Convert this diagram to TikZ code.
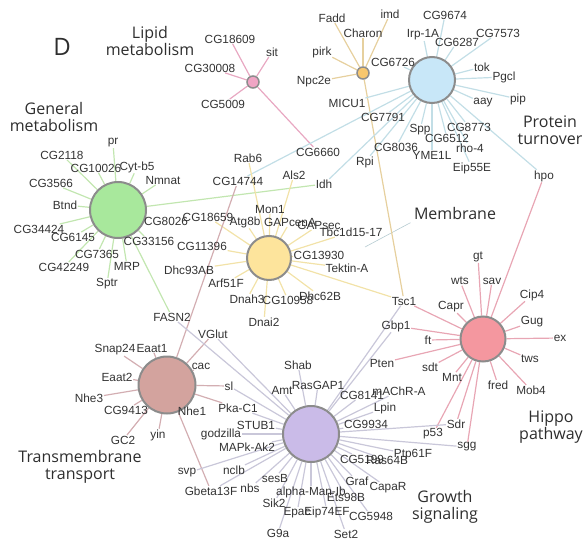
\documentclass[tikz,border=0pt]{standalone}
\usepackage{fontspec}
\setmainfont{Liberation Sans}
\newfontfamily\catfont{Open Sans}
\usetikzlibrary{backgrounds}

\definecolor{genetext}{HTML}{333333}
\definecolor{cattext}{HTML}{2E2E2E}
\definecolor{hubrim}{HTML}{8C8C8C}
% hub fills
\definecolor{greenfill}{HTML}{A8E89C}
\definecolor{bluefill}{HTML}{C8E7F8}
\definecolor{yellowfill}{HTML}{FDE49C}
\definecolor{pinkfill}{HTML}{F4979F}
\definecolor{brownfill}{HTML}{D3A39E}
\definecolor{purplefill}{HTML}{CABBE8}
\definecolor{lipidfill}{HTML}{F0A4C4}
\definecolor{orangefill}{HTML}{F8C76E}
% spoke colours
\definecolor{greenedge}{HTML}{C2E6B0}
\definecolor{blueedge}{HTML}{C2DEE6}
\definecolor{yellowedge}{HTML}{F2E2A8}
\definecolor{pinkedge}{HTML}{E8A6B4}
\definecolor{brownedge}{HTML}{D3AEB2}
\definecolor{purpleedge}{HTML}{C9C7D9}
\definecolor{lipidedge}{HTML}{E8A8C2}
\definecolor{orangeedge}{HTML}{E6D09E}

\tikzset{
  gene/.style={inner sep=0.6pt, text=genetext, font=\fontsize{11.8}{11.8}\selectfont},
  hub/.style={circle, draw=hubrim, line width=2pt, inner sep=0pt},
  minihub/.style={circle, draw=hubrim, line width=1.5pt, inner sep=0pt, minimum size=12pt},
  cat/.style={align=center, text=cattext, font=\catfont\fontsize{16}{17}\selectfont},
  spoke/.style={line width=1.2pt},
  greenln/.style={spoke, draw=greenedge},
  blueln/.style={spoke, draw=blueedge},
  yellowln/.style={spoke, draw=yellowedge},
  pinkln/.style={spoke, draw=pinkedge},
  brownln/.style={spoke, draw=brownedge},
  purpleln/.style={spoke, draw=purpleedge},
  lipidln/.style={spoke, draw=lipidedge},
  orangeln/.style={spoke, draw=orangeedge},
  lead/.style={line width=0.6pt, draw=blueedge!80!gray}
}

\begin{document}
\begin{tikzpicture}[x=1pt,y=-1pt]
  \useasboundingbox (0,0) rectangle (585,540);

  % panel letter and group titles
  \node[cat, font=\catfont\fontsize{24}{24}\selectfont] (panel) at (62,47) {D};
  \node[cat] (catlipid) at (150,41) {Lipid\\metabolism};
  \node[cat] (catgen) at (54,117) {General\\metabolism};
  \node[cat] (catprot) at (550,130) {Protein\\turnover};
  \node[cat] (memb) at (455,213) {Membrane};
  \node[cat] (cathippo) at (551,427) {Hippo\\pathway};
  \node[cat] (cattrans) at (80,467) {Transmembrane\\transport};
  \node[cat] (catgrowth) at (445,507) {Growth\\signaling};
  \coordinate (mtip) at (365,247);

  % hubs
  \node[minihub, fill=lipidfill] (L) at (253,82) {};
  \node[minihub, fill=orangefill] (O) at (363,73) {};
  \node[hub, fill=bluefill, minimum size=46pt] (B) at (432,80) {};
  \node[hub, fill=greenfill, minimum size=56pt] (G) at (118,210) {};
  \node[hub, fill=yellowfill, minimum size=44pt] (Y) at (269,258) {};
  \node[hub, fill=pinkfill, minimum size=45pt] (P) at (483,339) {};
  \node[hub, fill=brownfill, minimum size=57pt] (T) at (167,385) {};
  \node[hub, fill=purplefill, minimum size=56pt] (R) at (311,434) {};

  % lipid metabolism
  \node[gene] (cgA) at (230,39) {CG18609};
  \node[gene] (sit) at (272,52) {sit};
  \node[gene] (cgB) at (210,68) {CG30008};
  \node[gene] (cgC) at (223,104) {CG5009};
  \node[gene] (cg6660) at (318,152) {CG6660};

  % small orange hub
  \node[gene] (fadd) at (332,18) {Fadd};
  \node[gene] (imd) at (390,14) {imd};
  \node[gene] (charon) at (363,33) {Charon};
  \node[gene] (pirk) at (322,52) {pirk};
  \node[gene] (npc) at (314,82) {Npc2e};
  \node[gene] (tsc) at (404,301) {Tsc1};

  % protein turnover
  \node[gene] (cg9674) at (445,15) {CG9674};
  \node[gene] (irp) at (423,35) {Irp-1A};
  \node[gene] (cg6287) at (457,42) {CG6287};
  \node[gene] (cg7573) at (498,33) {CG7573};
  \node[gene] (cg6726) at (393,62) {CG6726};
  \node[gene] (tok) at (482,67) {tok};
  \node[gene] (pgcl) at (504,77) {Pgcl};
  \node[gene] (pip) at (518,99) {pip};
  \node[gene] (aay) at (483,103) {aay};
  \node[gene] (micu) at (347,103) {MICU1};
  \node[gene] (cg7791) at (383,117) {CG7791};
  \node[gene] (spp) at (420,130) {Spp};
  \node[gene] (cg8773) at (469,127) {CG8773};
  \node[gene] (cg6512) at (447,138) {CG6512};
  \node[gene] (rho) at (470,148) {rho-4};
  \node[gene] (cg8036) at (396,147) {CG8036};
  \node[gene] (yme) at (432,155) {YME1L};
  \node[gene] (eip55) at (472,168) {Eip55E};
  \node[gene] (hpo) at (544,176) {hpo};
  \node[gene] (rpi) at (365,162) {Rpi};
  \node[gene] (idh) at (324,184) {Idh};
  \node[gene] (cg14744) at (238,181) {CG14744};

  % general metabolism
  \node[gene] (pr) at (113,143) {pr};
  \node[gene] (cg2118) at (62,155) {CG2118};
  \node[gene] (cg10026) at (96,168) {CG10026};
  \node[gene] (cytb5) at (137,167) {Cyt-b5};
  \node[gene] (cg3566) at (51,183) {CG3566};
  \node[gene] (nmnat) at (163,180) {Nmnat};
  \node[gene] (btnd) at (65,205) {Btnd};
  \node[gene] (cg34424) at (39,229) {CG34424};
  \node[gene] (cg6145) at (73,237) {CG6145};
  \node[gene] (cg8026) at (166,221) {CG8026};
  \node[gene] (cg33156) at (149,241) {CG33156};
  \node[gene] (cg7365) at (97,254) {CG7365};
  \node[gene] (cg42249) at (64,267) {CG42249};
  \node[gene] (mrp) at (127,266) {MRP};
  \node[gene] (sptr) at (107,284) {Sptr};
  \node[gene] (fasn) at (172,317) {FASN2};

  % membrane
  \node[gene] (rab6) at (248,158) {Rab6};
  \node[gene] (als2) at (294,175) {Als2};
  \node[gene] (mon1) at (270,209) {Mon1};
  \node[gene] (atg8b) at (245,222) {Atg8b};
  \node[gene] (gapcena) at (290,222) {GAPcenA};
  \node[gene] (gapsec) at (319,225) {GAPsec};
  \node[gene] (tbc) at (351,232) {Tbc1d15-17};
  \node[gene] (cg13930) at (319,255) {CG13930};
  \node[gene] (tektin) at (347,268) {Tektin-A};
  \node[gene] (dhc62b) at (320,296) {Dhc62B};
  \node[gene] (cg10958) at (288,300) {CG10958};
  \node[gene] (dnah3) at (247,299) {Dnah3};
  \node[gene] (dnai2) at (264,322) {Dnai2};
  \node[gene] (arf51f) at (226,283) {Arf51F};
  \node[gene] (dhc93ab) at (189,270) {Dhc93AB};
  \node[gene] (cg11396) at (202,246) {CG11396};
  \node[gene] (cg18659) at (208,217) {CG18659};

  % hippo pathway
  \node[gene] (gt) at (478,257) {gt};
  \node[gene] (wts) at (460,281) {wts};
  \node[gene] (sav) at (492,281) {sav};
  \node[gene] (cip4) at (532,295) {Cip4};
  \node[gene] (capr) at (451,307) {Capr};
  \node[gene] (gug) at (532,322) {Gug};
  \node[gene] (ex) at (560,338) {ex};
  \node[gene] (ft) at (428,340) {ft};
  \node[gene] (tws) at (530,359) {tws};
  \node[gene] (pten) at (382,363) {Pten};
  \node[gene] (sdt) at (430,367) {sdt};
  \node[gene] (mnt) at (452,377) {Mnt};
  \node[gene] (fred) at (498,385) {fred};
  \node[gene] (mob4) at (531,390) {Mob4};
  \node[gene] (sdr) at (456,424) {Sdr};
  \node[gene] (p53) at (433,434) {p53};
  \node[gene] (sgg) at (467,447) {sgg};
  \node[gene] (gbp1) at (396,326) {Gbp1};

  % transmembrane transport
  \node[gene] (snap24) at (115,350) {Snap24};
  \node[gene] (eaat1) at (152,348) {Eaat1};
  \node[gene] (eaat2) at (117,377) {Eaat2};
  \node[gene] (nhe3) at (89,398) {Nhe3};
  \node[gene] (cg9413) at (126,410) {CG9413};
  \node[gene] (gc2) at (123,440) {GC2};
  \node[gene] (yin) at (158,435) {yin};
  \node[gene] (nhe1) at (192,411) {Nhe1};
  \node[gene] (cac) at (201,366) {cac};
  \node[gene] (sl) at (229,386) {sl};
  \node[gene] (pkac1) at (238,408) {Pka-C1};
  \node[gene] (vglut) at (213,334) {VGlut};
  \node[gene] (gbeta) at (211,491) {Gbeta13F};

  % growth signaling
  \node[gene] (shab) at (298,365) {Shab};
  \node[gene] (amt) at (282,390) {Amt};
  \node[gene] (rasgap) at (318,385) {RasGAP1};
  \node[gene] (cg8141) at (362,395) {CG8141};
  \node[gene] (machr) at (399,391) {mAChR-A};
  \node[gene] (lpin) at (385,408) {Lpin};
  \node[gene] (cg9934) at (366,424) {CG9934};
  \node[gene] (cg5199) at (362,459) {CG5199};
  \node[gene] (ras64b) at (387,460) {Ras64B};
  \node[gene] (ptp61f) at (413,455) {Ptp61F};
  \node[gene] (graf) at (357,481) {Graf};
  \node[gene] (capar) at (388,488) {CapaR};
  \node[gene] (ets98b) at (346,497) {Ets98B};
  \node[gene] (alphaman) at (311,492) {alpha-Man-Ib};
  \node[gene] (eip74ef) at (327,512) {Eip74EF};
  \node[gene] (cg5948) at (371,516) {CG5948};
  \node[gene] (set2) at (346,534) {Set2};
  \node[gene] (epac) at (297,513) {Epac};
  \node[gene] (g9a) at (278,533) {G9a};
  \node[gene] (sik2) at (274,503) {Sik2};
  \node[gene] (sesb) at (275,478) {sesB};
  \node[gene] (nbs) at (250,488) {nbs};
  \node[gene] (nclb) at (234,470) {nclb};
  \node[gene] (svp) at (187,473) {svp};
  \node[gene] (mapk) at (247,447) {MAPk-Ak2};
  \node[gene] (godzilla) at (221,434) {godzilla};
  \node[gene] (stub1) at (256,425) {STUB1};

  % spokes go underneath the hubs
  \begin{pgfonlayer}{background}
    \draw[lead] (memb.south west) -- (mtip);
    \foreach \g in {cgA,sit,cgB,cgC,cg6660}
      \draw[lipidln] (L) -- (\g);
    \foreach \g in {fadd,imd,charon,pirk,npc,tsc}
      \draw[orangeln] (O) -- (\g);
    \foreach \g in {cg9674,irp,cg6287,cg7573,cg6726,tok,pgcl,pip,aay,micu,cg7791,
        spp,cg8773,cg6512,rho,cg8036,yme,eip55,hpo,rpi,idh,cg14744}
      \draw[blueln] (B) -- (\g);
    \foreach \g in {pr,cg2118,cg10026,cytb5,cg3566,nmnat,btnd,cg34424,cg6145,
        cg8026,cg33156,cg7365,cg42249,mrp,sptr,fasn,idh}
      \draw[greenln] (G) -- (\g);
    \foreach \g in {rab6,als2,mon1,atg8b,gapcena,gapsec,tbc,cg13930,tektin,dhc62b,
        cg10958,dnah3,dnai2,arf51f,dhc93ab,cg11396,cg18659,tsc}
      \draw[yellowln] (Y) -- (\g);
    \foreach \g in {gt,wts,sav,cip4,capr,gug,ex,ft,tws,pten,sdt,mnt,fred,mob4,
        sdr,p53,sgg,gbp1,tsc,hpo}
      \draw[pinkln] (P) -- (\g);
    \foreach \g in {snap24,eaat1,eaat2,nhe3,cg9413,gc2,yin,nhe1,cac,sl,pkac1,
        vglut,gbeta,cg14744}
      \draw[brownln] (T) -- (\g);
    \foreach \g in {shab,amt,rasgap,cg8141,machr,lpin,cg9934,sdr,sgg,ptp61f,
        ras64b,cg5199,graf,capar,ets98b,alphaman,eip74ef,cg5948,set2,epac,g9a,
        sik2,sesb,nbs,gbeta,nclb,svp,mapk,godzilla,stub1,pkac1,sl,vglut,fasn,
        gbp1,tsc}
      \draw[purpleln] (R) -- (\g);
  \end{pgfonlayer}
\end{tikzpicture}
\end{document}
